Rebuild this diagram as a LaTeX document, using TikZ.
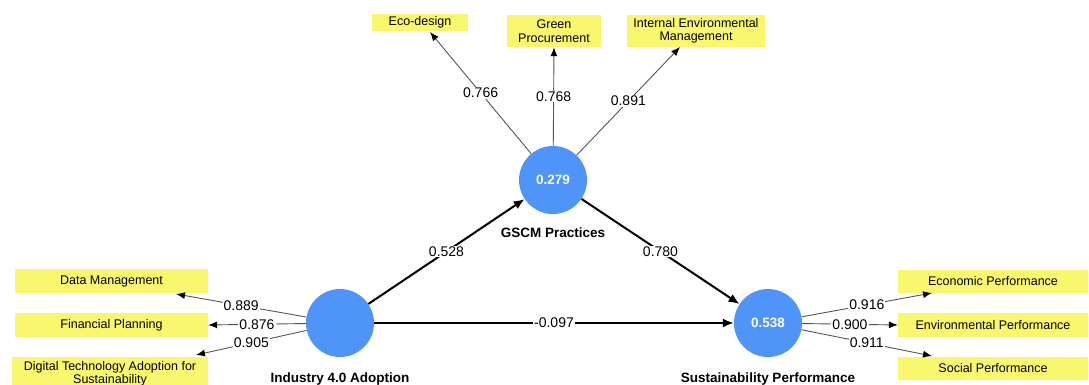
\documentclass[tikz,border=0pt]{standalone}
\usepackage{fontspec}
\setmainfont{Liberation Sans}
\usetikzlibrary{arrows.meta}
\definecolor{latent}{HTML}{4F94F9}
\definecolor{indic}{HTML}{F9F76E}
\definecolor{loadline}{HTML}{555555}
\tikzset{
  construct/.style={circle, fill=latent, draw=none, minimum size=68pt, inner sep=0pt,
    text=white, font=\fontsize{13.5}{16}\selectfont\bfseries},
  cname/.style={font=\fontsize{13.5}{16}\selectfont\bfseries, inner sep=0pt},
  indicator/.style={rectangle, fill=indic, draw=none, inner sep=0pt, align=center,
    font=\fontsize{12.5}{13.5}\selectfont},
  loading/.style={draw=loadline, line width=0.9pt, -{Latex[length=9pt,width=7pt,color=black]}},
  path coef/.style={draw=black, line width=2pt, -{Latex[length=11pt,width=9pt]}},
  coef/.style={fill=white, inner sep=1pt, font=\fontsize{14}{16}\selectfont},
}
\begin{document}
\begin{tikzpicture}[x=1pt,y=-1pt]
\useasboundingbox (0,0) rectangle (1089,385);

% latent constructs
\node[construct] (ind) at (340,323) {};
\node[construct] (gscm) at (553,180) {0.279};
\node[construct] (sus) at (768,323) {0.538};
\node[cname] (indl) at (340,379) {Industry 4.0 Adoption};
\node[cname] (gscml) at (553,233) {GSCM Practices};
\node[cname] (susl) at (768,379) {Sustainability Performance};

% indicators of Industry 4.0 Adoption
\node[indicator, minimum width=193pt, minimum height=24pt] (dm) at (111.5,281) {Data Management};
\node[indicator, minimum width=193pt, minimum height=24pt] (fp) at (111.5,325) {Financial Planning};
\node[indicator, minimum width=196pt, minimum height=34pt] (dt) at (110,374)
  {Digital Technology Adoption for\\Sustainability};

% indicators of Sustainability Performance
\node[indicator, minimum width=190pt, minimum height=23pt] (ep) at (993,281.5) {Economic Performance};
\node[indicator, minimum width=190pt, minimum height=24pt] (env) at (993,325) {Environmental Performance};
\node[indicator, minimum width=190pt, minimum height=23pt] (sp) at (993,368.5) {Social Performance};

% indicators of GSCM Practices
\node[indicator, minimum width=96pt, minimum height=17pt] (eco) at (420,22.5) {Eco-design};
\node[indicator, minimum width=94pt, minimum height=32pt] (gp) at (554,31) {Green\\Procurement};
\node[indicator, minimum width=138pt, minimum height=32pt] (iem) at (696,31) {Internal Environmental\\Management};

% arrow ends on the indicator boxes
\coordinate (tdm) at (176,294);
\coordinate (tdt) at (196,355);
\coordinate (tep) at (932,293);
\coordinate (tsp) at (932,356);
\coordinate (teco) at (430,32);
\coordinate (tiem) at (680,47);

% outer loadings
\draw[loading] (ind) -- node[coef] {0.889} (tdm);
\draw[loading] (ind) -- node[coef] {0.876} (fp.east);
\draw[loading] (ind) -- node[coef] {0.905} (tdt);
\draw[loading] (sus) -- node[coef] {0.916} (tep);
\draw[loading] (sus) -- node[coef] {0.900} (env.west);
\draw[loading] (sus) -- node[coef] {0.911} (tsp);
\draw[loading] (gscm) -- node[coef] {0.766} (teco);
\draw[loading] (gscm) -- node[coef] {0.768} (gp.south);
\draw[loading] (gscm) -- node[coef] {0.891} (tiem);

% structural paths
\draw[path coef] (ind) -- node[coef] {0.528} (gscm);
\draw[path coef] (gscm) -- node[coef] {0.780} (sus);
\draw[path coef] (ind) -- node[coef] {-0.097} (sus);
\end{tikzpicture}
\end{document}
